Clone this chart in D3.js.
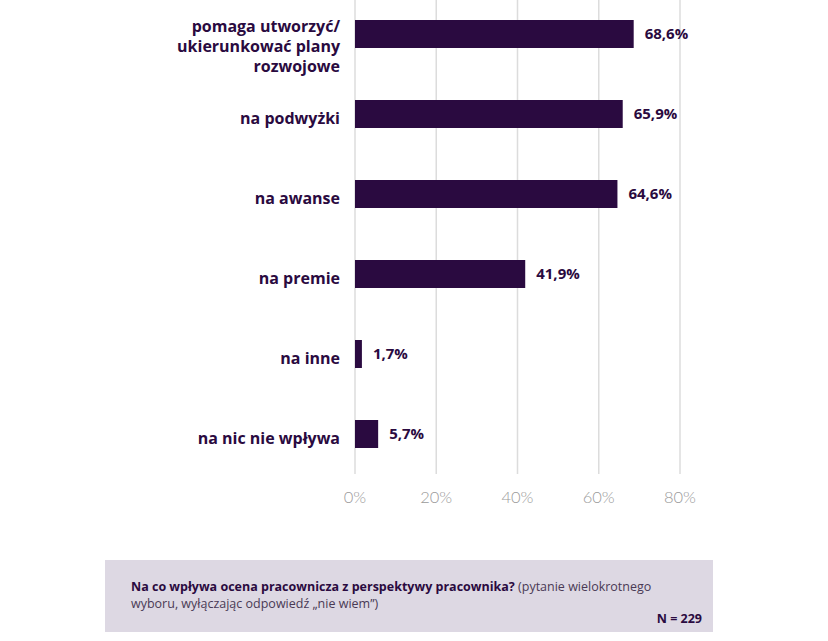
<!DOCTYPE html>
<html>
<head>
<meta charset="utf-8">
<script src="https://cdn.jsdelivr.net/npm/d3@7"></script>
<style>
  html, body { margin: 0; padding: 0; background: #fff; }
  svg { display: block; }
</style>
</head>
<body>
<svg id="chart" width="828" height="641"></svg>
<script>
const categories = [
  ["pomaga utworzyć/", "ukierunkować plany", "rozwojowe"],
  ["na podwyżki"],
  ["na awanse"],
  ["na premie"],
  ["na inne"],
  ["na nic nie wpływa"]
];
const values = [68.6, 65.9, 64.6, 41.9, 1.7, 5.7];
const valueLabels = ["68,6%", "65,9%", "64,6%", "41,9%", "1,7%", "5,7%"];
const ticks = [0, 20, 40, 60, 80];
const tickLabels = ["0%", "20%", "40%", "60%", "80%"];
const footerBold = "Na co wpływa ocena pracownicza z perspektywy pracownika?";
const footerRegular1 = " (pytanie wielokrotnego";
const footerRegular2 = "wyboru, wyłączając odpowiedź „nie wiem”)";
const footerN = "N = 229";

const dark = "#2a0a40";
const svg = d3.select("#chart");
const ids = categories.map((c, i) => i);

const x = d3.scaleLinear().domain([0, 80]).range([355, 680]);
const y = d3.scaleBand().domain(ids).range([-6, 474]).paddingInner(0.65).paddingOuter(0.325);

// gridlines
svg.append("g").selectAll("line").data(ticks).join("line")
  .attr("x1", d => x(d)).attr("x2", d => x(d))
  .attr("y1", 0).attr("y2", 474)
  .attr("stroke", "#dcdcdc").attr("stroke-width", 1.5);

// tick labels
svg.append("g").selectAll("text").data(ticks).join("text")
  .attr("x", d => x(d)).attr("y", 503)
  .attr("text-anchor", "middle")
  .attr("font-family", "Lato, 'Open Sans', sans-serif")
  .attr("font-weight", 300)
  .attr("font-size", 16.5)
  .attr("fill", "#9a9a9a")
  .text((d, i) => tickLabels[i]);

// bars
svg.append("g").selectAll("rect").data(ids).join("rect")
  .attr("x", x(0))
  .attr("y", i => y(i))
  .attr("width", i => x(values[i]) - x(0))
  .attr("height", y.bandwidth())
  .attr("fill", dark);

// value labels
svg.append("g").selectAll("text").data(ids).join("text")
  .attr("x", i => x(values[i]) + 11)
  .attr("y", i => y(i) + y.bandwidth() / 2 + 5)
  .attr("font-family", "'Open Sans', sans-serif")
  .attr("font-weight", 700)
  .attr("font-size", 15)
  .attr("fill", dark)
  .text(i => valueLabels[i]);

// category labels
const lab = svg.append("g").selectAll("text").data(ids).join("text")
  .attr("text-anchor", "end")
  .attr("font-family", "'Open Sans', sans-serif")
  .attr("font-weight", 700)
  .attr("font-size", 16)
  .attr("fill", dark);
lab.each(function(i) {
  const lines = categories[i];
  const t = d3.select(this);
  const base = lines.length > 1 ? y(i) + 12 : y(i) + y.bandwidth() / 2 + 10;
  lines.forEach((l, k) => {
    t.append("tspan").attr("x", 340).attr("y", base + k * 20).text(l);
  });
});

// footer box
svg.append("rect")
  .attr("x", 105).attr("y", 560).attr("width", 608).attr("height", 72)
  .attr("fill", "#ddd8e3");

const ft = svg.append("text")
  .attr("x", 131).attr("y", 591)
  .attr("font-family", "'Open Sans', sans-serif")
  .attr("font-size", 12.5)
  .attr("fill", dark);
ft.append("tspan").attr("font-weight", 700).text(footerBold);
ft.append("tspan").attr("font-weight", 400).attr("fill", "#4a3a55").text(footerRegular1);

svg.append("text")
  .attr("x", 131).attr("y", 608)
  .attr("font-family", "'Open Sans', sans-serif")
  .attr("font-size", 12.5)
  .attr("fill", "#4a3a55")
  .text(footerRegular2);

svg.append("text")
  .attr("x", 702).attr("y", 623)
  .attr("text-anchor", "end")
  .attr("font-family", "'Open Sans', sans-serif")
  .attr("font-weight", 700)
  .attr("font-size", 12.5)
  .attr("fill", dark)
  .text(footerN);
</script>
</body>
</html>
